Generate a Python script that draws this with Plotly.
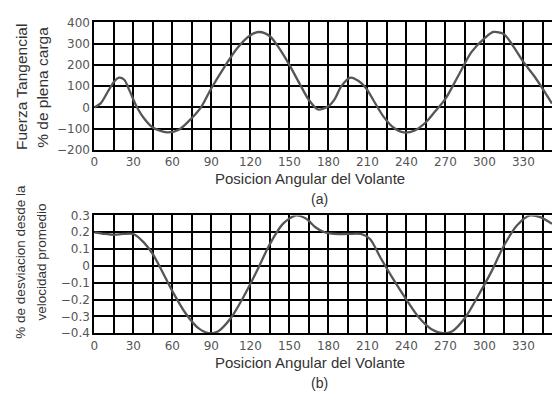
import plotly.graph_objects as go

# ---- data ----
angle_a = [0, 5, 10, 15, 19, 23, 27, 32, 38, 45, 56, 65, 75, 82, 90, 100, 110, 120, 127, 135,
           142, 150, 158, 165, 172, 180, 185, 190, 197, 203, 209, 215, 222, 230, 238, 246,
           255, 262, 270, 280, 290, 300, 307, 315, 322, 330, 338, 345, 352]
force_a = [0, 20, 70, 120, 140, 130, 80, 10, -50, -95, -118, -105, -50, 0, 90, 190, 280, 340, 355, 335,
           280, 200, 110, 35, -10, 5, 40, 100, 140, 125, 90, 30, -40, -95, -118, -110,
           -70, -20, 40, 150, 260, 325, 355, 345, 290, 214, 150, 86, 18]

angle_b = [0, 8, 15, 22, 30, 38, 45, 52, 60, 70, 80, 88, 95, 105, 115, 125, 135, 145, 155, 163,
           170, 177, 185, 195, 205, 212, 220, 230, 240, 250, 260, 268, 275, 285, 295, 305, 315,
           325, 335, 343, 352]
dev_b = [0.20, 0.19, 0.185, 0.19, 0.19, 0.14, 0.07, -0.03, -0.15, -0.28, -0.37, -0.40, -0.39, -0.31,
         -0.18, -0.03, 0.13, 0.25, 0.30, 0.28, 0.23, 0.20, 0.19, 0.19, 0.19, 0.16, 0.05, -0.08, -0.20,
         -0.31, -0.38, -0.40, -0.39, -0.31, -0.18, -0.04, 0.12, 0.24, 0.30, 0.29, 0.25]

x_grid = list(range(0, 360, 15))
x_labels = [str(v) if v % 30 == 0 else "" for v in x_grid]
ya_vals = [-200, -100, 0, 100, 200, 300, 400]
ya_labels = ["−200", "−100", "0", "100", "200", "300", "400"]
yb_vals = [-0.4, -0.3, -0.2, -0.1, 0, 0.1, 0.2, 0.3]
yb_labels = ["−0.4", "−0.3", "−0.2", "−0.1", "0", "0.1", "0.2", "0.3"]

W, H = 552, 401
FONT = "Liberation Sans"
TICKFONT = "DejaVu Sans"
TXT = "#333333"
TICKC = "#555555"

fig = go.Figure()
fig.add_trace(go.Scatter(x=angle_a, y=force_a, mode="lines", xaxis="x", yaxis="y",
                         line=dict(color="#555555", width=2.3, shape="spline", smoothing=0.8),
                         showlegend=False))
fig.add_trace(go.Scatter(x=angle_b, y=dev_b, mode="lines", xaxis="x2", yaxis="y2",
                         line=dict(color="#555555", width=2.3, shape="spline", smoothing=0.8),
                         showlegend=False))

x0 = 91 / W
xaxis_common = dict(range=[0, 352], tickmode="array", tickvals=x_grid, ticktext=x_labels,
                    showgrid=True, gridcolor="black", gridwidth=2, zeroline=False,
                    showline=True, linecolor="black", linewidth=2, mirror=True,
                    ticks="", tickfont=dict(family=TICKFONT, size=12, color=TICKC))
yaxis_common = dict(showgrid=True, gridcolor="black", gridwidth=2, zeroline=False,
                    showline=True, linecolor="black", linewidth=2, ticks="",
                    tickmode="array", tickfont=dict(family=TICKFONT, size=12, color=TICKC))

fig.update_layout(
    width=W, height=H, margin=dict(l=0, r=0, t=0, b=0),
    paper_bgcolor="white", plot_bgcolor="white",
    xaxis=dict(domain=[x0, 1], anchor="y", **xaxis_common),
    yaxis=dict(domain=[1 - 148 / H, 1 - 16 / H], anchor="x", range=[-200, 400],
               tickvals=ya_vals, ticktext=ya_labels, **yaxis_common),
    xaxis2=dict(domain=[x0, 1], anchor="y2", **xaxis_common),
    yaxis2=dict(domain=[1 - 338 / H, 1 - 216 / H], anchor="x2", range=[-0.4, 0.3],
                tickvals=yb_vals, ticktext=yb_labels, **yaxis_common),
)

def ann(text, x, y, angle=0, size=13):
    fig.add_annotation(text=text, x=x / W, y=1 - y / H, xref="paper", yref="paper",
                       showarrow=False, textangle=angle, xanchor="center", yanchor="middle",
                       font=dict(family=FONT, size=size, color=TXT))

ann("Posicion Angular del Volante", 308, 178, size=15)
ann("(a)", 318, 199, size=14)
ann("Posicion Angular del Volante", 308, 368, size=15)
ann("(b)", 318, 390, size=14)
ann("Fuerza Tangencial", 17, 83, angle=-90, size=15.5)
ann("% de plena carga", 38, 83, angle=-90, size=15.5)
ann("% de desviacion desde la", 17, 264, angle=-90, size=13.5)
ann("velocidad promedio", 38, 264, angle=-90, size=13.5)

fig.write_html("out.html")
